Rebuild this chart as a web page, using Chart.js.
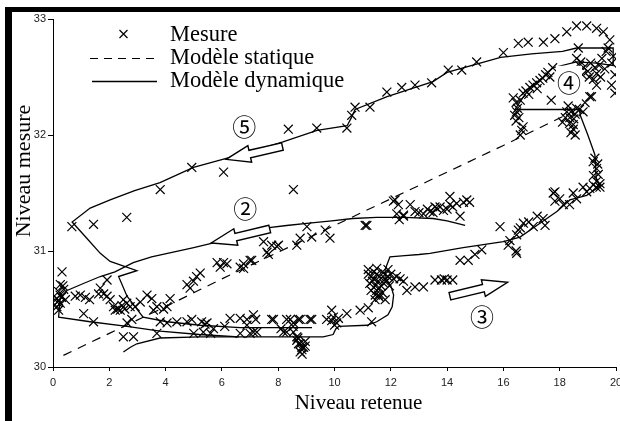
<!DOCTYPE html>
<html><head><meta charset="utf-8">
<script src="https://cdn.jsdelivr.net/npm/chart.js@4/dist/chart.umd.min.js"></script>
<style>
html,body{margin:0;padding:0;background:#fff;overflow:hidden;width:620px;height:421px;}
#frame{position:absolute;left:5px;top:7px;width:700px;height:500px;border-top:5px solid #000;border-left:7px solid #000;}
#wrap{position:absolute;left:0;top:0;width:644px;height:421px;}
</style></head><body>
<div id="frame"></div>
<div id="wrap"><canvas id="c" width="644" height="421"></canvas></div>
<script>
// ---- axis settings ----
const xMin = 0, xMax = 20, xStep = 2;
const yMin = 30, yMax = 33, yStep = 1;
const xTitle = "Niveau retenue";
const yTitle = "Niveau mesure";
const legendLabels = ["Mesure", "Modèle statique", "Modèle dynamique"];

// ---- Mesure (x = niveau retenue, y = niveau mesure) ----
const mesureHaut = [[0.67,31.21],[1.44,31.23],[2.62,31.29],[3.81,31.53],[4.93,31.72],[6.06,31.68],[8.54,31.53],[8.36,32.05],[9.37,32.06],[10.44,32.06],[10.61,32.17],[10.73,32.24],[11.26,32.24],[11.86,32.37],[12.39,32.41],[12.86,32.43],[13.45,32.45],[14.04,32.56],[14.52,32.56],[15.05,32.63],[16.0,32.71],[16.53,32.79],[16.88,32.8],[17.42,32.8],[17.83,32.83],[18.25,32.89],[18.6,32.94],[18.96,32.94],[19.31,32.92],[19.55,32.89]];
const mesureCoin = [[19.78,32.82],[19.72,32.75],[19.9,32.68],[19.6,32.57],[19.31,32.53],[19.96,32.52],[19.84,32.43],[19.96,32.36],[19.31,32.43],[19.13,32.33],[18.66,32.75],[18.6,32.66],[18.7,32.6],[18.85,32.58],[19.0,32.55],[19.1,32.62],[19.25,32.58],[19.4,32.6],[18.8,32.52],[19.05,32.5],[19.2,32.48],[19.45,32.5],[18.75,32.63],[19.5,32.66],[19.65,32.72],[19.85,32.62]];
const mesurePhase4 = [[16.47,32.2],[16.4,32.17],[16.5,32.23],[16.45,32.12],[16.55,32.15],[16.35,32.32],[16.45,32.28],[16.6,32.3],[16.7,32.36],[16.8,32.38],[16.94,32.41],[17.05,32.43],[17.18,32.45],[17.3,32.47],[17.4,32.49],[17.5,32.52],[17.58,32.54],[17.75,32.58],[17.65,32.5],[17.2,32.4],[16.9,32.35],[16.65,32.04],[16.6,32.0],[16.7,32.07],[17.7,32.3],[18.25,32.2],[18.36,32.15],[18.48,32.09],[18.1,32.11],[18.6,32.23],[18.83,32.2],[18.48,32.05],[18.3,32.25],[18.4,32.2],[18.55,32.18],[18.2,32.15],[18.35,32.1],[18.5,32.14],[18.7,32.22],[18.4,32.02],[18.55,32.0],[19.07,32.33],[18.9,32.28]];
const mesurePhase3 = [[19.19,31.77],[19.31,31.71],[19.37,31.66],[19.31,31.6],[19.19,31.57],[19.07,31.54],[18.96,31.51],[19.43,31.55],[19.25,31.8],[19.35,31.75],[19.2,31.65],[19.3,31.55],[17.83,31.51],[18.48,31.5],[18.83,31.55],[19.43,31.58],[17.77,31.5],[17.83,31.43],[18.13,31.4],[18.35,31.4],[18.6,31.45],[18.0,31.45],[17.41,31.28],[17.48,31.22],[17.06,31.21],[16.71,31.24],[16.53,31.18],[16.47,31.14],[16.23,31.09],[16.17,31.05],[16.47,30.98],[16.45,31.0],[15.88,31.21],[16.6,31.2],[16.9,31.25],[17.2,31.3],[15.23,31.01],[14.99,30.97],[14.75,30.92],[14.46,30.92],[13.57,30.75],[13.8,30.75],[14.0,30.75],[14.2,30.75],[13.9,30.76]];
const mesurePhase2 = [[12.21,31.32],[12.45,31.3],[12.69,31.4],[12.86,31.34],[13.16,31.32],[13.39,31.34],[13.63,31.37],[13.87,31.35],[14.1,31.4],[14.34,31.41],[14.58,31.42],[14.46,31.3],[11.15,31.22],[12.27,31.4],[12.15,31.44],[12.09,31.43],[12.45,31.31],[12.3,31.27],[13.0,31.33],[13.3,31.36],[13.5,31.33],[13.75,31.38],[14.0,31.36],[14.2,31.38],[14.7,31.44],[13.57,31.38],[14.1,31.47],[14.8,31.42],[9.02,31.21],[9.67,31.18],[9.84,31.11],[11.09,31.22],[9.19,31.12],[8.78,31.11],[8.66,31.05],[8.01,31.05],[7.77,31.05],[7.6,30.99],[7.48,31.08],[7.65,30.97],[7.06,30.92],[6.77,30.89],[6.77,30.85],[7.95,31.04],[7.0,30.92],[6.65,30.86],[6.18,30.89],[5.94,30.86],[6.06,30.9],[5.83,30.9],[5.23,30.81],[4.99,30.74],[4.76,30.71],[4.87,30.68],[5.1,30.78],[4.16,30.59],[4.05,30.52],[3.93,30.5],[3.57,30.49],[3.69,30.52],[3.51,30.59],[3.34,30.62],[3.1,30.56],[2.92,30.52],[2.74,30.52],[2.62,30.55],[2.5,30.58],[2.39,30.49],[2.21,30.49],[2.15,30.52],[2.03,30.58],[1.92,30.61],[1.8,30.63],[1.92,30.75],[1.68,30.68],[1.62,30.63],[2.3,30.5],[2.45,30.53],[2.55,30.5]];
const mesureGauche = [[0.32,30.82],[0.26,30.71],[0.38,30.67],[0.2,30.65],[0.14,30.59],[0.2,30.57],[0.26,30.55],[0.2,30.49],[0.14,30.52],[0.3,30.6],[0.44,30.58],[0.79,30.61],[0.97,30.62],[1.15,30.6],[1.3,30.58],[1.09,30.46],[1.44,30.39],[0.35,30.7],[0.25,30.62],[0.15,30.56]];
const mesureBas = [[2.63,30.38],[2.8,30.41],[2.5,30.26],[2.86,30.26],[3.69,30.29],[3.81,30.39],[4.05,30.38],[4.4,30.39],[4.76,30.39],[4.93,30.41],[5.28,30.39],[5.4,30.37],[5.47,30.38],[5.0,30.29],[5.34,30.3],[5.6,30.29],[5.7,30.33],[6.1,30.35],[6.29,30.42],[6.65,30.42],[6.65,30.29],[6.89,30.36],[7.12,30.45],[7.24,30.3],[7.0,30.29],[7.77,30.41],[8.1,30.33],[8.3,30.3],[8.53,30.35],[8.43,30.41],[8.78,30.41],[9.19,30.41],[8.66,30.26],[8.78,30.2],[8.84,30.15],[8.9,30.17],[8.96,30.22],[8.66,30.23],[6.89,30.41],[7.2,30.41],[7.12,30.3],[7.83,30.41],[8.3,30.41],[8.54,30.38],[8.72,30.41],[9.13,30.41],[8.19,30.3],[8.54,30.3],[8.72,30.2],[8.84,30.17],[8.78,30.13],[8.96,30.18],[8.85,30.11],[8.7,30.25],[9.72,30.41],[9.96,30.43],[9.9,30.49],[10.08,30.38],[10.14,30.42],[10.44,30.46],[10.91,30.49],[11.2,30.51],[11.32,30.39],[11.44,30.58],[11.56,30.62],[11.8,30.58],[10.0,30.36],[9.9,30.4]];
const mesureAmas = [[11.2,30.8],[11.3,30.78],[11.4,30.82],[11.5,30.8],[11.6,30.78],[11.7,30.82],[11.8,30.8],[11.9,30.78],[12.0,30.8],[12.1,30.76],[11.25,30.72],[11.35,30.74],[11.45,30.7],[11.55,30.74],[11.65,30.7],[11.75,30.72],[11.85,30.74],[11.95,30.7],[11.3,30.66],[11.5,30.66],[11.7,30.64],[11.6,30.6],[11.4,30.76],[11.8,30.76],[12.2,30.78],[11.2,30.84],[11.5,30.85],[11.9,30.84],[11.6,30.68],[11.45,30.62],[12.45,30.74],[12.57,30.66],[12.86,30.69],[13.16,30.69],[12.33,30.76]];

// ---- Modèle statique ----
const statiqueX = [0.37, 2, 4, 6, 8, 10, 12, 14, 16, 18.2];
const statiqueY = [30.10, 30.29, 30.52, 30.76, 30.99, 31.22, 31.45, 31.68, 31.91, 32.17];

// ---- Modèle dynamique (two traced pieces) ----
const dynamique1 = [[14.64,31.22],[14.0,31.26],[13.5,31.28],[12.5,31.29],[11.5,31.29],[10.65,31.28],[9.9,31.26],[9.1,31.24],[8.3,31.22],[7.6,31.2],[6.5,31.13],[5.7,31.07],[5.0,31.03],[4.27,30.99],[3.5,30.95],[2.85,30.9],[2.2,30.82],[1.68,30.78],[1.08,30.72],[0.5,30.66],[0.26,30.6],[0.22,30.5],[0.2,30.43],[1.32,30.39],[2.63,30.35],[3.8,30.31],[5.2,30.28],[6.6,30.26],[8.0,30.26],[9.0,30.26],[9.6,30.26],[9.95,30.28],[10.05,30.33],[10.15,30.35],[11.15,30.36],[11.5,30.39],[11.9,30.45],[12.05,30.52],[12.1,30.62],[12.0,30.7],[11.8,30.76],[11.8,30.84],[11.86,30.88],[11.97,30.95],[12.5,30.96],[13.0,30.97],[13.39,30.98],[14.57,31.03],[16.0,31.08],[16.59,31.12],[17.3,31.24],[17.9,31.34],[18.36,31.44],[18.96,31.48],[19.43,31.56],[19.3,31.62],[19.25,31.83],[19.0,32.0],[18.73,32.17],[18.7,32.22],[17.5,32.22],[16.41,32.22],[16.8,32.36],[17.3,32.47],[17.76,32.58],[18.6,32.63],[19.3,32.62],[19.9,32.6],[19.9,32.75],[19.2,32.75],[18.6,32.75],[18.1,32.72],[17.0,32.7],[15.9,32.67],[14.0,32.54],[13.5,32.46],[12.6,32.39],[11.87,32.33],[10.73,32.22],[10.6,32.15],[10.45,32.08],[9.38,32.04],[8.17,31.94],[7.2,31.87],[6.19,31.8],[4.99,31.72],[3.8,31.59],[2.9,31.52],[2.03,31.44],[1.32,31.37],[0.68,31.25],[1.2,31.11],[1.68,30.98],[2.03,30.91],[2.98,30.83],[2.33,30.78],[2.63,30.61],[3.2,30.43],[4.05,30.39],[5.23,30.36],[6.65,30.34],[8.0,30.34],[9.2,30.34]];
const dynamique2 = [[2.5,30.13],[2.75,30.17],[2.98,30.2],[3.8,30.25],[5.2,30.26],[6.6,30.26]];

// ---- annotations (data units) ----
const phaseLabels = [
  {t:"⑤", x:6.79, y:32.07, box:false},
  {t:"②", x:6.83, y:31.36, box:false},
  {t:"③", x:15.24, y:30.43, box:false},
  {t:"④", x:18.33, y:32.45, box:true}
];
const phaseArrows = [
  {from:[8.15,31.9], to:[6.15,31.79]},
  {from:[7.7,31.19], to:[5.62,31.07]},
  {from:[14.1,30.61], to:[16.15,30.73]}
];

const toPts = a => a.map(p => ({x:p[0], y:p[1]}));
const mesure = [].concat(mesureHaut, mesureCoin, mesurePhase4, mesurePhase3, mesurePhase2, mesureGauche, mesureBas, mesureAmas);

const overlay = {
  id: 'overlay',
  afterDatasetsDraw(chart) {
    const {ctx, scales:{x, y}} = chart;
    ctx.save();
    // arrows
    ctx.lineWidth = 1.4; ctx.strokeStyle = '#000'; ctx.fillStyle = '#fff'; ctx.setLineDash([]);
    phaseArrows.forEach(a => {
      const x0 = x.getPixelForValue(a.from[0]), y0 = y.getPixelForValue(a.from[1]);
      const x1 = x.getPixelForValue(a.to[0]), y1 = y.getPixelForValue(a.to[1]);
      const L = Math.hypot(x1-x0, y1-y0);
      const dx = (x1-x0)/L, dy = (y1-y0)/L, nx = -dy, ny = dx;
      const hl = L*0.42, sw = 3.8, hw = 8.5;
      const bx = x1 - dx*hl, by = y1 - dy*hl;
      ctx.beginPath();
      ctx.moveTo(x0+nx*sw, y0+ny*sw);
      ctx.lineTo(bx+nx*sw, by+ny*sw);
      ctx.lineTo(bx+nx*hw, by+ny*hw);
      ctx.lineTo(x1, y1);
      ctx.lineTo(bx-nx*hw, by-ny*hw);
      ctx.lineTo(bx-nx*sw, by-ny*sw);
      ctx.lineTo(x0-nx*sw, y0-ny*sw);
      ctx.closePath();
      ctx.fill(); ctx.stroke();
    });
    // circled phase numbers
    ctx.font = '24px "Noto Sans CJK JP"';
    ctx.textAlign = 'center'; ctx.textBaseline = 'middle';
    phaseLabels.forEach(p => {
      const px = x.getPixelForValue(p.x), py = y.getPixelForValue(p.y);
      if (p.box) { ctx.fillStyle = '#fff'; ctx.fillRect(px-13, py-17, 26, 34); }
      ctx.fillStyle = '#000';
      ctx.fillText(p.t, px, py);
    });
    // legend
    ctx.fillStyle = '#000'; ctx.strokeStyle = '#000'; ctx.lineWidth = 1.2;
    ctx.beginPath();
    ctx.moveTo(119.5, 30); ctx.lineTo(127.5, 38);
    ctx.moveTo(127.5, 30); ctx.lineTo(119.5, 38);
    ctx.stroke();
    ctx.setLineDash([8, 6]);
    ctx.beginPath(); ctx.moveTo(90, 58.5); ctx.lineTo(158, 58.5); ctx.stroke();
    ctx.setLineDash([]);
    ctx.lineWidth = 1.3;
    ctx.beginPath(); ctx.moveTo(92, 81.5); ctx.lineTo(157, 81.5); ctx.stroke();
    ctx.font = '22.5px "Liberation Serif"';
    ctx.textAlign = 'left'; ctx.textBaseline = 'alphabetic';
    ctx.fillText(legendLabels[0], 170, 41);
    ctx.fillText(legendLabels[1], 170, 64);
    ctx.fillText(legendLabels[2], 170, 87);
    ctx.restore();
  },
  afterDraw(chart) {
    const {ctx} = chart;
    ctx.save();
    ctx.fillStyle = '#000';
    ctx.font = '21px "Liberation Serif"';
    ctx.textAlign = 'center'; ctx.textBaseline = 'alphabetic';
    ctx.fillText(xTitle, 358.5, 409);
    ctx.translate(30, 171);
    ctx.rotate(-Math.PI/2);
    ctx.font = '22px "Liberation Serif"';
    ctx.fillText(yTitle, 0, 0);
    ctx.restore();
  }
};

new Chart(document.getElementById('c'), {
  type: 'scatter',
  data: {
    datasets: [
      {label: legendLabels[0], data: toPts(mesure), showLine: false, pointStyle: 'crossRot', pointRadius: 6.3, pointBorderWidth: 1.2, borderColor: '#000', backgroundColor: 'rgba(0,0,0,0)', order: 1},
      {label: legendLabels[1], data: statiqueX.map((v,i) => ({x:v, y:statiqueY[i]})), showLine: true, borderDash: [9,7], borderWidth: 1.2, borderColor: '#000', pointRadius: 0, tension: 0, order: 2},
      {label: legendLabels[2], data: toPts(dynamique1), showLine: true, borderWidth: 1.3, borderColor: '#000', pointRadius: 0, tension: 0, order: 3},
      {label: legendLabels[2], data: toPts(dynamique2), showLine: true, borderWidth: 1.3, borderColor: '#000', pointRadius: 0, tension: 0, order: 3}
    ]
  },
  options: {
    responsive: false,
    animation: false,
    layout: {padding: {left: 0, top: 19, right: 28, bottom: 0}},
    plugins: {legend: {display: false}, tooltip: {enabled: false}},
    scales: {
      x: {
        type: 'linear', min: xMin, max: xMax,
        ticks: {stepSize: xStep, color: '#222', font: {family: '"Liberation Sans", Arial', size: 11}, padding: 5, maxRotation: 0},
        grid: {display: true, drawOnChartArea: false, drawTicks: true, tickLength: 4, color: '#000'},
        border: {display: true, color: '#000', width: 1},
        afterFit: s => { s.height = 54; }
      },
      y: {
        type: 'linear', min: yMin, max: yMax,
        ticks: {stepSize: yStep, color: '#222', font: {family: '"Liberation Sans", Arial', size: 11}, padding: 2},
        grid: {display: true, drawOnChartArea: false, drawTicks: true, tickLength: 5, color: '#000'},
        border: {display: true, color: '#000', width: 1},
        afterFit: s => { s.width = 53; }
      }
    }
  },
  plugins: [overlay]
});
</script>
</body></html>
